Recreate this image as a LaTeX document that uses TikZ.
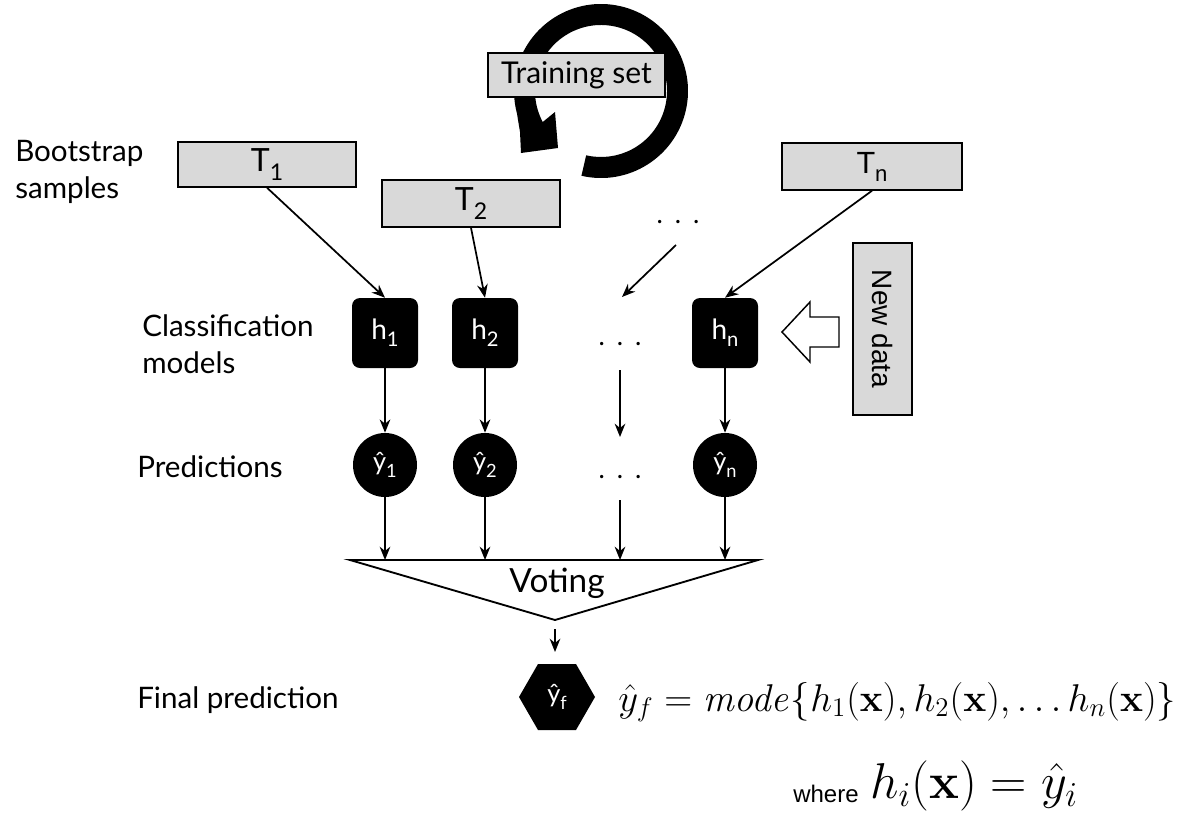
\documentclass[tikz,border=0pt]{standalone}
\usepackage[no-math]{fontspec}
\usepackage{graphicx}
\setmainfont{Lato}
\newfontfamily\arialf{Liberation Sans}
\usetikzlibrary{arrows.meta,calc}
\definecolor{boxgray}{RGB}{217,217,217}
\newcommand\sbs[1]{\raisebox{-0.5ex}{\scalebox{0.72}{#1}}}
\begin{document}
\begin{tikzpicture}[x=0.75pt,y=-0.75pt,
  gbox/.style={draw=black,fill=boxgray,line width=1.1pt,inner sep=0pt},
  hbox/.style={fill=black,rounded corners=6pt,text=white,minimum width=49.5pt,minimum height=52.5pt,inner sep=0pt,font=\fontsize{21}{24}\selectfont},
  ycirc/.style={circle,fill=black,text=white,minimum size=48pt,inner sep=0pt,font=\fontsize{19}{22}\selectfont},
  lbl/.style={anchor=west,align=left,inner sep=0pt,font=\fontsize{22.2}{28}\selectfont},
  dotsn/.style={inner sep=0pt,font=\fontsize{20}{22}\selectfont},
  arr/.style={-{Stealth[length=10pt,width=8pt]},line width=1.3pt}]
\useasboundingbox (0,0) rectangle (1178,818);

% circular arrow (behind training set box)
\coordinate (C) at (601,91);
\fill[black] ($(C)+(103:87)$) arc[start angle=103,end angle=-195,radius=87]
  -- (520,132) -- (521,153) -- (558,148) -- (555,112) -- ($(C)+(-208:66)$)
  arc[start angle=-208,end angle=103,radius=66] -- cycle;

\node[gbox,minimum width=132.75pt,minimum height=33pt,font=\fontsize{22.5}{24}\selectfont] (train) at (576.5,75) {Training set};

% bootstrap samples
\node[gbox,minimum width=133.5pt,minimum height=33.75pt,font=\fontsize{24}{26}\selectfont] (T1) at (267,164.5) {T\sbs{1}};
\node[gbox,minimum width=133.5pt,minimum height=35.25pt,font=\fontsize{24}{26}\selectfont] (T2) at (471,203.5) {T\sbs{2}};
\node[gbox,minimum width=135pt,minimum height=35.25pt,font=\arialf\fontsize{23}{26}\selectfont] (Tn) at (872,166.5) {T\sbs{n}};
\node[dotsn] (d0) at (678,222) {.\hspace{9pt}.\hspace{9pt}.};
\coordinate (d0s) at (676,245);
\coordinate (d0e) at (622,297);

% models
\node[hbox] (h1) at (385,333) {h\sbs{1}};
\node[hbox] (h2) at (485,333) {h\sbs{2}};
\node[hbox] (hn) at (725,333) {h\sbs{n}};
\node[dotsn] (d1) at (620,344) {.\hspace{9pt}.\hspace{9pt}.};

% predictions
\node[ycirc] (y1) at (385,465) {ŷ\sbs{1}};
\node[ycirc] (y2) at (485,465) {ŷ\sbs{2}};
\node[ycirc] (yn) at (725,465) {ŷ\sbs{n}};
\node[dotsn] (d2) at (620,477) {.\hspace{9pt}.\hspace{9pt}.};
\coordinate (d1s) at (620,370);
\coordinate (d1e) at (620,437);
\coordinate (d2s) at (620,500);

% voting triangle
\coordinate (vl) at (350,560);
\coordinate (vr) at (758,560);
\coordinate (vb) at (555,620);
\coordinate (v1) at (385,560);
\coordinate (v2) at (485,560);
\coordinate (v3) at (620,560);
\coordinate (v4) at (725,560);
\draw[line width=1.4pt,line join=miter] (vl) -- (vr) -- (vb) -- cycle;
\node[font=\fontsize{25}{27}\selectfont] (vote) at (557,583) {Voting};
\coordinate (vs) at (555,629);

% final
\fill[black] (519,697) -- (538,664) -- (576,664) -- (595,697) -- (576,730) -- (538,730) -- cycle;
\node[text=white,inner sep=1pt,font=\fontsize{19}{22}\selectfont] (yf) at (557,697) {ŷ\sbs{f}};
\coordinate (yft) at (555,652);

\node[anchor=west,inner sep=0pt,font=\fontsize{20.74}{24}\selectfont] (form) at (618,702)
  {\scalebox{1.40}{$\hat y_f = \mathit{mode}\{h_1(\mathbf{x}), h_2(\mathbf{x}), \ldots h_n(\mathbf{x})\}$}};
\node[anchor=west,inner sep=0pt,font=\arialf\fontsize{18}{20}\selectfont] (where) at (793,794) {where};
\node[anchor=west,inner sep=0pt,font=\fontsize{20.74}{24}\selectfont] (wf) at (870,786) {\scalebox{1.82}{$h_i(\mathbf{x}) = \hat y_i$}};

% new data
\node[gbox,rotate=-90,minimum width=129pt,minimum height=44.25pt,font=\arialf\fontsize{21}{24}\selectfont] (nd) at (882.5,329) {New data};
\draw[line width=1.1pt,fill=white,line join=miter] (782,332) -- (810,302) -- (810,317) -- (839,317) -- (839,347) -- (810,347) -- (810,362) -- cycle;

% labels
\node[lbl] (lb1) at (15,172) {Bootstrap\\samples};
\node[lbl] (lb2) at (142,344) {Classification\\models};
\node[lbl] (lb3) at (137,467) {Predictions};
\node[lbl] (lb4) at (137,700) {Final prediction};

% connectors
\draw[arr] (T1.south) -- (h1.north);
\draw[arr] (T2.south) -- (h2.north);
\draw[arr] (Tn.south) -- (hn.north);
\draw[arr] (d0s) -- (d0e);
\draw[arr] (h1.south) -- (y1.north);
\draw[arr] (h2.south) -- (y2.north);
\draw[arr] (hn.south) -- (yn.north);
\draw[arr] (d1s) -- (d1e);
\draw[arr] (y1.south) -- (v1);
\draw[arr] (y2.south) -- (v2);
\draw[arr] (d2s) -- (v3);
\draw[arr] (yn.south) -- (v4);
\draw[arr] (vs) -- (yft);
\end{tikzpicture}
\end{document}
